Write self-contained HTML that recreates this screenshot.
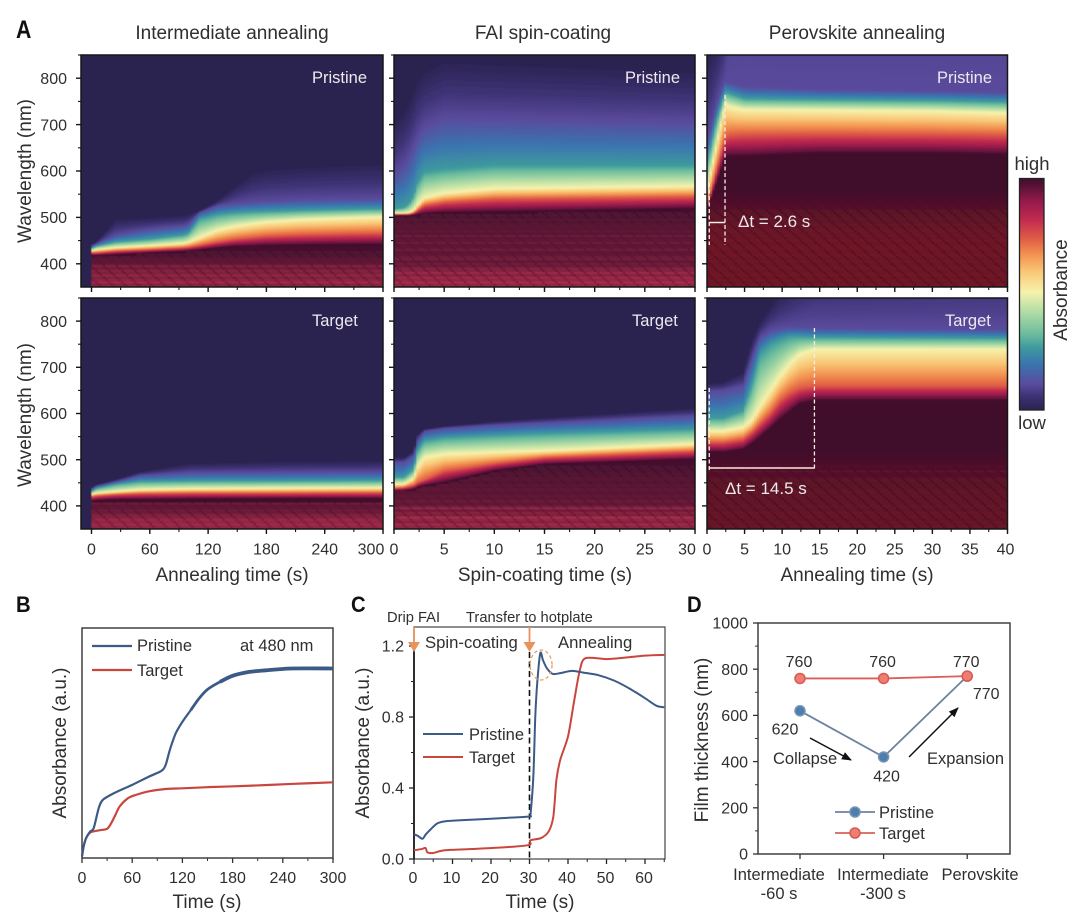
<!DOCTYPE html>
<html lang="en">
<head>
<meta charset="utf-8">
<title>Perovskite film absorbance evolution</title>
<style>
html,body{margin:0;padding:0;background:#fff;}
svg{display:block;font-family:"Liberation Sans",Arial,sans-serif;fill:#2f2f2f;}
.t19{font-size:19px;}
.t16{font-size:16px;}
.t165{font-size:16.5px;}
.t147{font-size:14.7px;}
.mid{text-anchor:middle;}
.wh{fill:#eee9ee;}
.letter{font-size:22px;font-weight:bold;fill:#111;}
</style>
</head>
<body>
<svg id="fig" xmlns="http://www.w3.org/2000/svg" width="1080" height="919" viewBox="0 0 1080 919">
<defs>
  <filter id="soft" x="-2%" y="-2%" width="104%" height="104%"><feGaussianBlur stdDeviation="0.6"/></filter>
  <marker id="arrow-black" viewBox="0 0 10 8" refX="9" refY="4" markerWidth="10" markerHeight="8" markerUnits="userSpaceOnUse" orient="auto"><path d="M0 0L10 4L0 8z" fill="#111"/></marker>
</defs>
<rect width="1080" height="919" fill="#fff"/>

<g id="heatmaps"></g>
<g id="colorbar"></g>
<g id="chartB"></g>
<g id="chartC"></g>
<g id="chartD"></g>

<g>
  <text class="letter" font-size="25" style="font-size:25px" transform="translate(16,38) scale(.85,1)">A</text>
  <text class="letter" transform="translate(16,612) scale(.92,1)">B</text>
  <text class="letter" transform="translate(351,612) scale(.92,1)">C</text>
  <text class="letter" transform="translate(687,612) scale(.92,1)">D</text>
</g>

<g>
  <text class="t19 mid" x="232" y="39">Intermediate annealing</text>
  <text class="t19 mid" x="543" y="39">FAI spin-coating</text>
  <text class="t19 mid" x="857" y="39">Perovskite annealing</text>
</g>

<g>
  <text class="t19 mid" transform="translate(31,171) rotate(-90)">Wavelength (nm)</text>
  <text class="t19 mid" transform="translate(31,415) rotate(-90)">Wavelength (nm)</text>
  <text class="t19 mid" x="232" y="581">Annealing time (s)</text>
  <text class="t19 mid" x="545" y="581">Spin-coating time (s)</text>
  <text class="t19 mid" x="857" y="581">Annealing time (s)</text>
</g>

<g>
  <text class="t165 wh" x="312" y="83">Pristine</text>
  <text class="t165 wh" x="625" y="83">Pristine</text>
  <text class="t165 wh" x="937" y="83">Pristine</text>
  <text class="t165 wh" x="312" y="326">Target</text>
  <text class="t165 wh" x="632" y="326">Target</text>
  <text class="t165 wh" x="945" y="326">Target</text>
  <text x="738" y="227" font-size="17" class="wh">Δt = 2.6 s</text>
  <text x="725" y="494" font-size="17" class="wh">Δt = 14.5 s</text>
</g>

<g>
  <text class="mid" x="1032" y="170" font-size="18.5">high</text>
  <text class="mid" x="1032" y="429" font-size="18.5">low</text>
  <text class="t19 mid" transform="translate(1067,290) rotate(-90)">Absorbance</text>
</g>

<g>
  <text class="t19" transform="translate(66,743) rotate(-90)" text-anchor="middle">Absorbance (a.u.)</text>
  <text class="t19 mid" x="207" y="908">Time (s)</text>
  <text class="t165" x="137" y="651">Pristine</text>
  <text class="t165" x="137" y="676">Target</text>
  <text class="t165" x="240" y="651">at 480 nm</text>
</g>

<g>
  <text class="t19" transform="translate(369,743) rotate(-90)" text-anchor="middle">Absorbance (a.u.)</text>
  <text class="t19 mid" x="540" y="908">Time (s)</text>
  <text class="t147" x="387" y="622">Drip FAI</text>
  <text class="t147" x="466" y="622">Transfer to hotplate</text>
  <text x="425" y="648" font-size="16.7">Spin-coating</text>
  <text x="558" y="648" font-size="16.7">Annealing</text>
  <text class="t165" x="469" y="740">Pristine</text>
  <text class="t165" x="469" y="763">Target</text>
</g>

<g>
  <text class="t19" transform="translate(708,740) rotate(-90)" text-anchor="middle">Film thickness (nm)</text>
  <text class="t165" x="773" y="764">Collapse</text>
  <text class="t165" x="927" y="764">Expansion</text>
  <line x1="810" y1="738" x2="851" y2="760" stroke="#111" stroke-width="1.5" marker-end="url(#arrow-black)"/>
  <line x1="909" y1="757" x2="958" y2="708" stroke="#111" stroke-width="1.5" marker-end="url(#arrow-black)"/>
  <text class="t165" x="879" y="818">Pristine</text>
  <text class="t165" x="879" y="839">Target</text>
</g>
</svg>

<script>
/* ---------- Heatmap data: wavelength (nm) of absorbance iso-levels against time ---------- */
const wavelengthTicks = [400, 500, 600, 700, 800];
const intermediateTicks = [0, 60, 120, 180, 240, 300];
const spinTicks = [0, 5, 10, 15, 20, 25, 30];
const perovskiteTicks = [0, 5, 10, 15, 20, 25, 30, 35, 40];

const ipTimes  = [0,5,25,60,95,100,111,129,146,165,180,214,282,300];
const ipEdge   = [443,447,497,500,505,507,515,535,565,595,603,610,616,616];
const ipPurple = [438,443,462,475,482,486,510,525,530,533,535,538,540,540];
const ipTeal   = [433,438,447,453,462,466,497,506,510,512,513,515,518,518];
const ipPale   = [428,431,435,439,444,447,456,472,480,486,490,495,500,501];
const ipEmber  = [424,424,428,431,435,436,440,447,453,457,460,463,466,466];
const ipDark   = [418,418,420,424,427,428,430,434,437,438,439,440,441,441];
const ipFloor  = [.75,.6,.8,.65,.55,.7,.5,.6,.4,.55,.3,.25,.25,.15,.12,.12,.08,.05];

const itTimes  = [0,5,25,50,100,180,300];
const itEdge   = [440,446,458,474,492,496,498];
const itPurple = [436,443,452,466,472,473,474];
const itTeal   = [431,438,447,453,454,454,455];
const itPale   = [425,428,431,435,437,438,439];
const itEmber  = [420,422,425,427,428,428,429];
const itDark   = [410,412,414,414,415,416,416];
const itFloor  = [.8,.7,.8,.7,.75,.6,.55,.35,.4,.3,.3,.35];

const spTimes  = [0,1,1.5,2,2.3,3,5,10,30];
const spEdge   = [702,730,752,775,795,817,840,835,817];
const spPurple = [594,612,630,655,670,695,716,714,706];
const spTeal   = [518,521,529,548,572,598,604,612,612];
const spPale   = [509,509,510,515,525,542,552,562,567];
const spEmber  = [507,507,507,510,515,526,533,540,545];
const spDark   = [504,504,504,505,506,508,510,511,518];
const spFloor  = [.85,.7,.85,.7,.8,.6,.75,.55,.6,.35,.4,.3,.45,.35,.3,.25,.4,.3,.25,.35,.3,.25,.35,.2,.3,.2,.25,.2,.15,.2,.1,.15,.1,.05];

const stTimes  = [0,1,2,2.3,3,5,10,15,30];
const stEdge   = [505,505,520,555,566,573,583,591,612];
const stPurple = [495,495,510,540,562,568,575,580,595];
const stTeal   = [462,462,480,519,541,548,553,557,566];
const stPale   = [447,447,460,483,505,512,516,519,534];
const stEmber  = [438,440,445,450,456,476,492,505,519];
const stDark   = [433,433,436,440,444,450,476,490,501];
const stFloor  = [.8,.65,.8,.6,.7,.85,.5,.6,.4,.7,.35,.3,.35,.25,.3,.25,.2,.3,.2,.25,.15,.2,.2,.15,.15,.1,.1,.1,.05,.05,.05];

const ppTimes  = [0,.2,1.3,2.4,3,5,15,30,40];
const ppEdge   = [840,850,880,950,1500,1800,1800,1800,1800];
const ppPurple = [660,670,745,795,790,782,776,773,770];
const ppTeal   = [625,630,712,770,767,756,754,752,749];
const ppPale   = [565,572,658,745,738,732,731,729,725];
const ppEmber  = [525,536,605,672,678,680,681,680,678];
const ppDark   = [520,526,575,630,630,630,637,637,634];
const ppFloor  = [.45,.5,.4,.5,.4,.5,.45,.4,.5,.45,.4,.5,.4,.45,.5,.4,.45,.5,.45,.4,.5,.4,.45,.4,.45,.4,.35,.4,.3,.35,.3,.3,.25,.25,.2,.2,.15,.15,.1,.08,.05,.03];

const ptTimes  = [0,2.2,4.8,6,7,8.4,9.7,11,12.3,14.3,40];
const ptEdge   = [665,668,690,760,795,830,860,880,910,950,1000];
const ptPurple = [648,650,660,720,765,780,785,787,787,785,782];
const ptTeal   = [590,590,606,663,728,750,760,767,767,765,763];
const ptPale   = [562,562,570,585,613,648,680,707,728,739,739];
const ptEmber  = [538,538,545,560,577,600,628,645,655,660,660];
const ptDark   = [516,516,522,535,548,567,586,603,620,627,627];
const ptFloor  = [.35,.4,.35,.4,.3,.4,.35,.4,.3,.35,.4,.3,.35,.3,.35,.3,.35,.3,.25,.3,.25,.3,.25,.2,.2,.25,.15,.2,.15,.1,.1,.05,.05,.03];

const dtPristineTimes = [0.3, 2.4];
const dtTargetTimes = [0.3, 14.3];

/* ---------- Colormap ---------- */
const colorLevels = [0,.06,.11,.2,.27,.33,.43,.51,.6,.68,.74,.82,.9,.98,1];
const colorValues = ['#2a2350','#3d3274','#5a4a9c','#3a75b0','#3f9a9d','#6dbd9d','#b6dea6','#f6f2ac','#f9c574','#f18c4e','#de5c46','#c32b4f','#951a4b','#4e1033','#400e2c'];
const isoLevels = [0,.11,.27,.51,.74,1];

/* ---------- Panel B data ---------- */
const bTicks = [0, 60, 120, 180, 240, 300];
const bTimes = [0,2,5,10,14,20,25,40,60,80,95,100,105,112,120,130,140,150,165,180,200,220,250,300];
const bPristine = [.7,5.1,8.7,11.6,13,21.7,25.3,28.5,31.8,35.4,37.9,40.5,47,54.2,59.2,64.3,69.4,73.3,76.6,79.2,80.9,81.6,82.4,82.4];
const bTargetTimes = [0,2,5,10,20,30,35,40,45,55,65,80,100,120,150,200,250,300];
const bTarget = [.7,5.1,8.7,11.1,12,12.7,15.2,18.8,22.4,26,27.5,29,30,30.3,30.8,31.4,32.2,32.9];

/* ---------- Panel C data ---------- */
const cXTicks = [0, 10, 20, 30, 40, 50, 60];
const cYTicks = [0, 0.4, 0.8, 1.2];
const cPristineTimes = [0,1,2.2,3,4,6,8,12,20,25,30,30.3,31,31.5,32,32.8,33.5,34.5,36,38,41,44,48,52,56,60,63,65];
const cPristine = [.14,.13,.114,.137,.16,.2,.212,.218,.227,.233,.24,.26,.465,.8,.99,1.16,1.12,1.075,1.043,1.047,1.06,1.05,1.035,1.005,.96,.906,.863,.855];
const cTargetTimes = [0,2,3,3.5,5,8,15,25,30,30.2,33,35,36.2,37,38,40,41.5,43,44.5,50,55,60,65];
const cTarget = [.049,.056,.062,.037,.034,.049,.056,.068,.08,.105,.118,.156,.24,.447,.56,.69,.878,1.056,1.131,1.126,1.135,1.146,1.15];

/* ---------- Panel D data ---------- */
const dCategories = [['Intermediate','-60 s'],['Intermediate','-300 s'],['Perovskite']];
const dYTicks = [0, 200, 400, 600, 800, 1000];
const dPristine = [620, 420, 770];
const dTarget = [760, 760, 770];

/* ---------- Helpers ---------- */
const NS = 'http://www.w3.org/2000/svg';
const svg = document.getElementById('fig');
const defs = svg.querySelector('defs');
function mk(tag, parent, attrs, text) {
  const n = document.createElementNS(NS, tag);
  for (const k in attrs) n.setAttribute(k, attrs[k]);
  if (text !== undefined) n.textContent = text;
  parent.appendChild(n);
  return n;
}
function interp(xs, ys, x) {
  if (x <= xs[0]) return ys[0];
  for (let i = 1; i < xs.length; i++) {
    if (x <= xs[i]) return ys[i-1] + (ys[i]-ys[i-1]) * (x-xs[i-1]) / (xs[i]-xs[i-1]);
  }
  return ys[ys.length-1];
}
function linScale(d0, d1, r0, r1) { return v => r0 + (v-d0) * (r1-r0) / (d1-d0); }

/* Row texture patterns: offset per row so the dashes never line up vertically */
const TEX_OFFSETS = 5;
function makeTextures(name, main, gap) {
  for (let i = 0; i < TEX_OFFSETS; i++) {
    const pat = mk('pattern', defs, {id: name + '-' + i, width: 13, height: 5, patternUnits: 'userSpaceOnUse', patternTransform: 'translate(' + (i * 5.3).toFixed(1) + ' 0)'});
    mk('rect', pat, {x: 0, y: 0, width: 13, height: 5, fill: main});
    mk('rect', pat, {x: 9, y: 0, width: 2.5, height: 5, fill: gap});
  }
}
makeTextures('tex-pink', '#b8324f', '#8e2046');
makeTextures('tex-red', '#a61c1c', '#7c141e');

/* ---------- Heatmap panels ---------- */
const GRAD_LOW = 300, GRAD_HIGH = 1900;
const panelSpecs = [
  {key:'intermediate-pristine', times:ipTimes, iso:[ipEdge,ipPurple,ipTeal,ipPale,ipEmber,ipDark], floor:ipFloor, tex:'tex-pink', left:81, right:383, x0:91.5, top:55, bottom:287, tMax:300, ticks:intermediateTicks, minor:30, xLabels:false, yLabels:true, lastShift:0},
  {key:'spin-pristine', times:spTimes, iso:[spEdge,spPurple,spTeal,spPale,spEmber,spDark], floor:spFloor, tex:'tex-pink', left:394, right:695, x0:394, top:55, bottom:287, tMax:30, ticks:spinTicks, minor:2.5, xLabels:false, yLabels:false, lastShift:0},
  {key:'perovskite-pristine', times:ppTimes, iso:[ppEdge,ppPurple,ppTeal,ppPale,ppEmber,ppDark], floor:ppFloor, tex:'tex-red', left:707, right:1007.5, x0:707, top:55, bottom:287, tMax:40, ticks:perovskiteTicks, minor:2.5, xLabels:false, yLabels:false, lastShift:0},
  {key:'intermediate-target', times:itTimes, iso:[itEdge,itPurple,itTeal,itPale,itEmber,itDark], floor:itFloor, tex:'tex-pink', left:81, right:383, x0:91.5, top:298, bottom:529, tMax:300, ticks:intermediateTicks, minor:30, xLabels:true, yLabels:true, lastShift:-12},
  {key:'spin-target', times:stTimes, iso:[stEdge,stPurple,stTeal,stPale,stEmber,stDark], floor:stFloor, tex:'tex-pink', left:394, right:695, x0:394, top:298, bottom:529, tMax:30, ticks:spinTicks, minor:2.5, xLabels:true, yLabels:false, lastShift:-8},
  {key:'perovskite-target', times:ptTimes, iso:[ptEdge,ptPurple,ptTeal,ptPale,ptEmber,ptDark], floor:ptFloor, tex:'tex-red', left:707, right:1007.5, x0:707, top:298, bottom:529, tMax:40, ticks:perovskiteTicks, minor:2.5, xLabels:true, yLabels:false, lastShift:-2}
];

function lambdaAtLevel(level, isoVals) {
  for (let i = 1; i < isoLevels.length; i++) {
    if (level <= isoLevels[i]) {
      return isoVals[i-1] + (isoVals[i]-isoVals[i-1]) * (level-isoLevels[i-1]) / (isoLevels[i]-isoLevels[i-1]);
    }
  }
  return isoVals[isoVals.length-1];
}

const heatRoot = document.getElementById('heatmaps');
panelSpecs.forEach(function (p, pIndex) {
  const sx = linScale(0, p.tMax, p.x0, p.right);
  const sy = linScale(350, 850, p.bottom, p.top);

  const clip = mk('clipPath', defs, {id: 'clip-' + p.key});
  mk('rect', clip, {x: p.left, y: p.top, width: p.right - p.left, height: p.bottom - p.top});

  const panel = mk('g', heatRoot, {});
  
  

  const clipped = mk('g', panel, {'clip-path': 'url(#clip-' + p.key + ')'});
  const cells = mk('g', clipped, {filter: 'url(#soft)'});

  const bg = mk('rect', cells, {x: p.left - 3, y: p.top - 3, width: p.right - p.left + 6, height: p.bottom - p.top + 6, fill: colorValues[0]});
  
  

  const colW = 2.5;
  const nCols = Math.ceil((p.right - p.x0) / colW);
  const dt = p.tMax / nCols;
  const darkByCol = [];
  for (let c = 0; c < nCols; c++) {
    const t = (c + 0.5) * dt;
    const isoVals = p.iso.map(a => interp(p.times, a, t));
    darkByCol.push(isoVals[5]);
    const gid = 'g-' + pIndex + '-' + c;
    const grad = mk('linearGradient', defs, {id: gid, gradientUnits: 'userSpaceOnUse', x1: 0, x2: 0, y1: sy(GRAD_LOW), y2: sy(GRAD_HIGH)});
    for (let i = colorLevels.length - 1; i >= 0; i--) {
      const lam = lambdaAtLevel(colorLevels[i], isoVals);
      mk('stop', grad, {offset: ((lam - GRAD_LOW) / (GRAD_HIGH - GRAD_LOW)).toFixed(4), 'stop-color': colorValues[i]});
    }
    const x = sx(c * dt);
    const col = mk('rect', cells, {x: x.toFixed(2), y: p.top - 3, width: (p.right - p.x0) / nCols + 0.6, height: p.bottom - p.top + 6, fill: 'url(#' + gid + ')'});
    
    
  }

  p.floor.forEach(function (value, r) {
    const lam = 350 + 5 * r;
    let first = -1;
    for (let c = 0; c < nCols; c++) { if (darkByCol[c] > lam + 2.5) { first = c; break; } }
    if (first < 0) return;
    const x = sx(first * dt);
    const texId = p.tex + '-' + ((r * 2 + pIndex) % TEX_OFFSETS);
    const row = mk('rect', cells, {x: x.toFixed(2), y: sy(lam + 2.5).toFixed(2), width: (p.right - x + 3).toFixed(2), height: (sy(lam) - sy(lam + 5)).toFixed(2), fill: 'url(#' + texId + ')', opacity: value});
    
    
  });

  const frame = mk('rect', panel, {x: p.left, y: p.top, width: p.right - p.left, height: p.bottom - p.top, fill: 'none', stroke: '#161616', 'stroke-width': 1.5});
  
  

  /* y ticks */
  wavelengthTicks.forEach(function (w) {
    const y = sy(w);
    const tk = mk('line', panel, {x1: p.left - 5, x2: p.left, y1: y, y2: y, stroke: '#161616', 'stroke-width': 1.4});
    
    
    const mn = mk('line', panel, {x1: p.left - 3, x2: p.left, y1: sy(w + 50), y2: sy(w + 50), stroke: '#161616', 'stroke-width': 1.1});
    
    
    if (p.yLabels) {
      const lb = mk('text', panel, {x: p.left - 14, y: y + 5.7, 'text-anchor': 'end', 'font-size': 16}, String(w));
      
      
    }
  });

  /* x ticks */
  for (let t = 0; t <= p.tMax + 1e-6; t += p.minor) {
    const mn = mk('line', panel, {x1: sx(t), x2: sx(t), y1: p.bottom, y2: p.bottom + 3, stroke: '#161616', 'stroke-width': 1.1});
    
    
  }
  p.ticks.forEach(function (t, ti) {
    const tk = mk('line', panel, {x1: sx(t), x2: sx(t), y1: p.bottom, y2: p.bottom + 5, stroke: '#161616', 'stroke-width': 1.4});
    
    
    if (p.xLabels) {
      const shift = ti === p.ticks.length - 1 ? p.lastShift : 0;
      const lb = mk('text', panel, {x: sx(t) + shift, y: p.bottom + 25.5, 'text-anchor': 'middle', 'font-size': 16}, String(t));
      
      
    }
  });

  /* delta-t annotation */
  if (p.key === 'perovskite-pristine' || p.key === 'perovskite-target') {
    const isP = p.key === 'perovskite-pristine';
    const times = isP ? dtPristineTimes : dtTargetTimes;
    const yTop = isP ? [183, 95] : [388, 328];
    const yBot = isP ? 245 : 470;
    const yArrow = isP ? 222.5 : 468;
    times.forEach(function (t, i) {
      const ln = mk('line', panel, {x1: sx(t), x2: sx(t), y1: yTop[i], y2: yBot, stroke: '#f5ece4', 'stroke-width': 1.3, 'stroke-dasharray': '4 2.5'});
      
      
    });
    const hl = mk('line', panel, {x1: sx(times[0]), x2: sx(times[1]), y1: yArrow, y2: yArrow, stroke: '#f5ece4', 'stroke-width': 1.5});
    
    
  }
});

/* ---------- Colorbar ---------- */
(function () {
  const root = document.getElementById('colorbar');
  const grad = mk('linearGradient', defs, {id: 'cbar', x1: 0, x2: 0, y1: 1, y2: 0});
  colorLevels.forEach(function (v, i) { mk('stop', grad, {offset: v, 'stop-color': colorValues[i]}); });
  const bar = mk('rect', root, {x: 1019.5, y: 178.5, width: 24.5, height: 231.5, fill: 'url(#cbar)', stroke: '#222', 'stroke-width': 1.3});
  
  
})();

function pathFrom(xs, ys, sx, sy) {
  return xs.map((x, i) => (i ? 'L' : 'M') + sx(x).toFixed(2) + ' ' + sy(ys[i]).toFixed(2)).join('');
}
/* Smooth curve through the read points (Catmull-Rom) so the lines have no kinks */
function smoothFrom(xs, ys, sx, sy) {
  const pts = xs.map((x, i) => [sx(x), sy(ys[i])]);
  const k = 1 / 7;
  let d = 'M' + pts[0][0].toFixed(2) + ' ' + pts[0][1].toFixed(2);
  for (let i = 0; i < pts.length - 1; i++) {
    const p0 = pts[Math.max(i - 1, 0)], p1 = pts[i], p2 = pts[i + 1], p3 = pts[Math.min(i + 2, pts.length - 1)];
    const c1x = p1[0] + (p2[0] - p0[0]) * k, c1y = p1[1] + (p2[1] - p0[1]) * k;
    const c2x = p2[0] - (p3[0] - p1[0]) * k, c2y = p2[1] - (p3[1] - p1[1]) * k;
    d += 'C' + c1x.toFixed(2) + ' ' + c1y.toFixed(2) + ' ' + c2x.toFixed(2) + ' ' + c2y.toFixed(2) + ' ' + p2[0].toFixed(2) + ' ' + p2[1].toFixed(2);
  }
  return d;
}

/* ---------- Panel B ---------- */
(function () {
  const root = document.getElementById('chartB');
  const L = 82, R = 333, T = 628, B = 858;
  const sx = linScale(0, 300, L, R);
  const sy = linScale(0, 100, B, T);
  const frame = mk('rect', root, {x: L, y: T, width: R - L, height: B - T, fill: 'none', stroke: '#333', 'stroke-width': 1.4});
  
  
  bTicks.forEach(function (t, i) {
    const tk = mk('line', root, {x1: sx(t), x2: sx(t), y1: B, y2: B + 5, stroke: '#333', 'stroke-width': 1.3});
    
    
    const lb = mk('text', root, {x: sx(t), y: 883, 'text-anchor': 'middle', 'font-size': 16}, String(t));
    
    
    if (i < bTicks.length - 1) {
      const mid = (t + bTicks[i + 1]) / 2;
      const mn = mk('line', root, {x1: sx(mid), x2: sx(mid), y1: B, y2: B + 3, stroke: '#333', 'stroke-width': 1});
      
      
    }
  });
  const lineT = mk('path', root, {d: smoothFrom(bTargetTimes, bTarget, sx, sy), fill: 'none', stroke: '#c9463f', 'stroke-width': 2.2, 'stroke-linejoin': 'round'});
  
  
  const lineP = mk('path', root, {d: smoothFrom(bTimes, bPristine, sx, sy), fill: 'none', stroke: '#3c5a86', 'stroke-width': 2.2, 'stroke-linejoin': 'round'});
  
  
  [[130, 2.8], [165, 3.8]].forEach(function (band) {
    const idx = bTimes.findIndex(t => t >= band[0]);
    const thick = mk('path', root, {d: smoothFrom(bTimes.slice(idx), bPristine.slice(idx), sx, sy), fill: 'none', stroke: '#3c5a86', 'stroke-width': band[1]});
    
    
  });
  const l1 = mk('line', root, {x1: 92, x2: 132, y1: 646, y2: 646, stroke: '#3c5a86', 'stroke-width': 2.2});
  
  
  const l2 = mk('line', root, {x1: 92, x2: 132, y1: 670, y2: 670, stroke: '#c9463f', 'stroke-width': 2.2});
  
  
})();

/* ---------- Panel C ---------- */
(function () {
  const root = document.getElementById('chartC');
  const L = 414, R = 665, T = 627, B = 859;
  const sx = linScale(0, 60, L, 645);
  const sy = linScale(0, 1.2, B, 646);
  const frame = mk('rect', root, {x: L, y: T, width: R - L, height: B - T, fill: 'none', stroke: '#444', 'stroke-width': 1.2});
  
  
  const leftAxis = mk('line', root, {x1: L, x2: L, y1: sy(1.2), y2: B, stroke: '#111', 'stroke-width': 1.7});
  
  
  cXTicks.forEach(function (t) {
    const tk = mk('line', root, {x1: sx(t), x2: sx(t), y1: B, y2: B + 5, stroke: '#222', 'stroke-width': 1.3});
    
    
    const mn = mk('line', root, {x1: sx(t + 5), x2: sx(t + 5), y1: B, y2: B + 3, stroke: '#222', 'stroke-width': 1});
    
    
    const lb = mk('text', root, {x: sx(t) - 1, y: 883, 'text-anchor': 'middle', 'font-size': 16}, String(t));
    
    
  });
  cYTicks.forEach(function (v, i) {
    const tk = mk('line', root, {x1: L - 5, x2: L, y1: sy(v), y2: sy(v), stroke: '#222', 'stroke-width': 1.3});
    
    
    const lb = mk('text', root, {x: 404, y: sy(v) + 5.7, 'text-anchor': 'end', 'font-size': 16}, v.toFixed(1));
    
    
    if (i < cYTicks.length - 1) {
      const mn = mk('line', root, {x1: L - 3, x2: L, y1: sy(v + 0.2), y2: sy(v + 0.2), stroke: '#222', 'stroke-width': 1});
      
      
    }
  });
  const dash = mk('line', root, {x1: sx(30), x2: sx(30), y1: 652, y2: B, stroke: '#111', 'stroke-width': 1.6, 'stroke-dasharray': '6 3.5'});
  
  
  const lineT = mk('path', root, {d: smoothFrom(cTargetTimes, cTarget, sx, sy), fill: 'none', stroke: '#c9463f', 'stroke-width': 2, 'stroke-linejoin': 'round'});
  
  
  const lineP = mk('path', root, {d: smoothFrom(cPristineTimes, cPristine, sx, sy), fill: 'none', stroke: '#3c5a86', 'stroke-width': 2, 'stroke-linejoin': 'round'});
  
  
  [0, 30].forEach(function (t) {
    const x = sx(t);
    const sh = mk('line', root, {x1: x, x2: x, y1: 627, y2: 646, stroke: '#e8935c', 'stroke-width': 1.8});
    
    
    const hd = mk('path', root, {d: 'M' + (x - 6) + ' 642L' + (x + 6) + ' 642L' + x + ' 652z', fill: '#e8935c'});
    
    
  });
  const ring = mk('ellipse', root, {cx: sx(33), cy: 665, rx: 11, ry: 15, fill: 'none', stroke: '#e8a060', 'stroke-width': 1.3, 'stroke-dasharray': '3.5 2.5'});
  
  
  const l1 = mk('line', root, {x1: 423, x2: 463, y1: 734, y2: 734, stroke: '#3c5a86', 'stroke-width': 2});
  
  
  const l2 = mk('line', root, {x1: 423, x2: 463, y1: 757, y2: 757, stroke: '#c9463f', 'stroke-width': 2});
  
  
})();

/* ---------- Panel D ---------- */
(function () {
  const root = document.getElementById('chartD');
  const L = 758, R = 1010, T = 623, B = 854;
  const sx = i => 800 + 83.6 * i;
  const sy = linScale(0, 1000, B, T);
  const frame = mk('rect', root, {x: L, y: T, width: R - L, height: B - T, fill: 'none', stroke: '#333', 'stroke-width': 1.4});
  
  
  dYTicks.forEach(function (v, i) {
    const tk = mk('line', root, {x1: L - 5, x2: L, y1: sy(v), y2: sy(v), stroke: '#333', 'stroke-width': 1.3});
    
    
    const lb = mk('text', root, {x: 748, y: sy(v) + 5.7, 'text-anchor': 'end', 'font-size': 16}, String(v));
    
    
    if (i < dYTicks.length - 1) {
      const mn = mk('line', root, {x1: L - 3, x2: L, y1: sy(v + 100), y2: sy(v + 100), stroke: '#333', 'stroke-width': 1});
      
      
    }
  });
  const labelCentres = [779, 883, 980];
  dCategories.forEach(function (lines, i) {
    const tk = mk('line', root, {x1: sx(i), x2: sx(i), y1: B, y2: B + 5, stroke: '#333', 'stroke-width': 1.3});
    
    
    lines.forEach(function (txt, j) {
      const lb = mk('text', root, {x: labelCentres[i], y: 880 + 19 * j, 'text-anchor': 'middle', 'font-size': 16.5}, txt);
      
      
    });
  });
  const idxs = dCategories.map((c, i) => i);
  const lineP = mk('path', root, {d: pathFrom(idxs, dPristine, sx, sy), fill: 'none', stroke: '#6d829f', 'stroke-width': 1.8});
  
  
  const lineT = mk('path', root, {d: pathFrom(idxs, dTarget, sx, sy), fill: 'none', stroke: '#d9605a', 'stroke-width': 1.8});
  
  
  const pristineOffsets = [[-15, 18], [3, 19], [19, 17]];
  const targetOffsets = [[-1, -17], [-1, -17], [-1, -15]];
  dPristine.forEach(function (v, i) {
    const c = mk('circle', root, {cx: sx(i), cy: sy(v), r: 5, fill: '#4a7fb0', stroke: '#7b93ae', 'stroke-width': 1.5});
    
    
    const lb = mk('text', root, {x: sx(i) + pristineOffsets[i][0], y: sy(v) + pristineOffsets[i][1] + 5.7, 'text-anchor': 'middle', 'font-size': 16}, String(v));
    
    
  });
  dTarget.forEach(function (v, i) {
    const c = mk('circle', root, {cx: sx(i), cy: sy(v), r: 5, fill: '#ee7d72', stroke: '#d9594f', 'stroke-width': 1.5});
    
    
    const lb = mk('text', root, {x: sx(i) + targetOffsets[i][0], y: sy(v) + targetOffsets[i][1] + 5.7, 'text-anchor': 'middle', 'font-size': 16}, String(v));
    
    
  });
  const l1 = mk('line', root, {x1: 835, x2: 875, y1: 812, y2: 812, stroke: '#6d829f', 'stroke-width': 1.8});
  
  
  const m1 = mk('circle', root, {cx: 855, cy: 812, r: 5, fill: '#4a7fb0', stroke: '#7b93ae', 'stroke-width': 1.5});
  
  
  const l2 = mk('line', root, {x1: 835, x2: 875, y1: 833, y2: 833, stroke: '#d9605a', 'stroke-width': 1.8});
  
  
  const m2 = mk('circle', root, {cx: 855, cy: 833, r: 5, fill: '#ee7d72', stroke: '#d9594f', 'stroke-width': 1.5});
  
  
})();
</script>
</body>
</html>
